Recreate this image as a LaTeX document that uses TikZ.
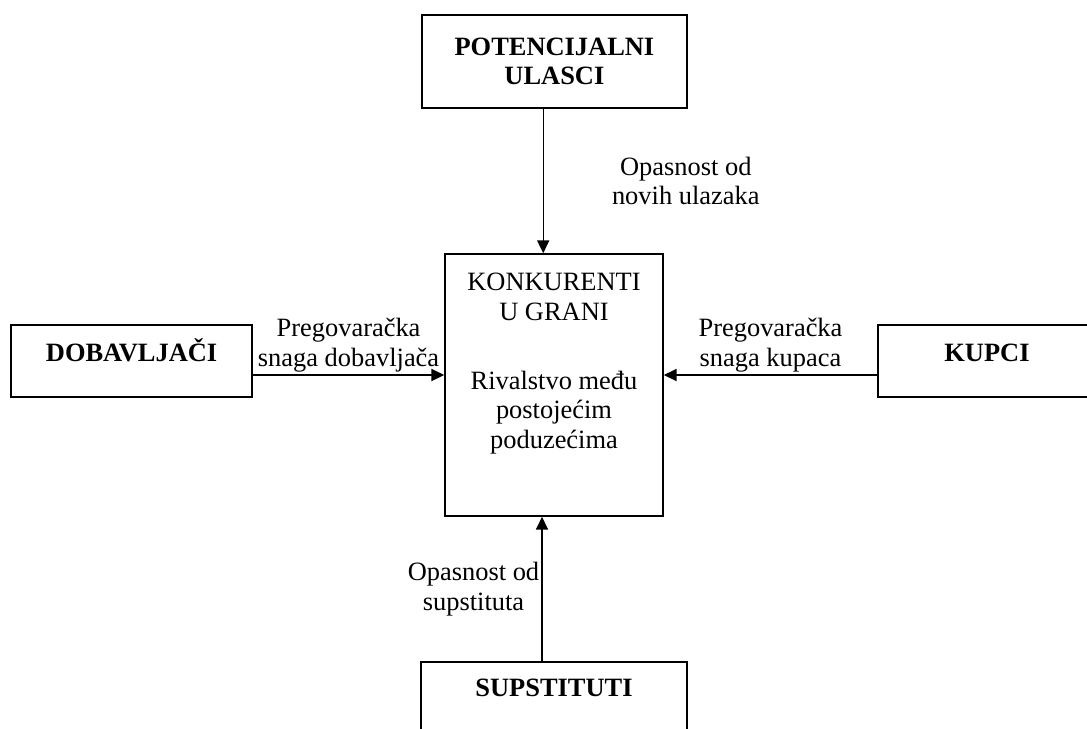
\documentclass[tikz,border=0pt]{standalone}
\usepackage{fontspec}
\setmainfont{Liberation Serif}
\usepackage{tikz}
\usetikzlibrary{
arrows.meta,
positioning
}

\begin{document}
\begin{tikzpicture}[
  force/.style={draw, line width=1.1pt, align=center,
                font=\fontsize{18.8}{21}\selectfont\bfseries},
  note/.style={font=\fontsize{18.8}{21}\selectfont, align=center, inner sep=1.5pt},
  arrow/.style={-{Triangle[length=0.32cm, width=0.3cm]}, line width=1pt}
]
\useasboundingbox (0,0) rectangle (27.175,-18.2);

%% Box: potential entrants
\node[force, minimum width=6.625cm, minimum height=2.325cm]
      (ulasci) at (13.86,-1.54) {POTENCIJALNI\\ULASCI};

%% Box: rivals in the industry
\node[draw, line width=1.1pt, minimum width=5.45cm, minimum height=6.55cm]
      (rival) at (13.85,-9.625) {};
\node[note, inner sep=0pt, anchor=north] (rivaltxt) at (13.85,-6.825)
  {KONKURENTI\\U GRANI\\[0.99cm]Rivalstvo među\\postojećim\\poduzećima};

%% Side boxes
\node[force, minimum width=6.025cm, minimum height=1.8cm,
      text height=0.45cm, text depth=0.41cm]
      (dobav) at (3.29,-9.025) {DOBAVLJAČI};
\node[force, minimum width=5.45cm, minimum height=1.8cm,
      text height=0.45cm, text depth=0.41cm]
      (kupci) at (24.675,-9.025) {KUPCI};

%% Box: substitutes
\node[force, minimum width=6.65cm, minimum height=2.075cm,
      text height=0.45cm, text depth=0.83cm]
      (supst) at (13.85,-17.59) {SUPSTITUTI};

%% Arrows into the centre
\draw[arrow] ([xshift=-0.28cm]ulasci.south) --
  node[note, right=1.65cm] {Opasnost od\\novih ulazaka}
  ([xshift=-0.28cm]ulasci.south |- rival.north);
\draw[arrow] ([yshift=-0.35cm]dobav.east) --
  node[note, above] {Pregovaračka\\snaga dobavljača}
  ([yshift=-0.35cm]dobav.east -| rival.west);
\draw[arrow] ([yshift=-0.35cm]kupci.west) --
  node[note, above] {Pregovaračka\\snaga kupaca}
  ([yshift=-0.35cm]kupci.west -| rival.east);
\draw[arrow] ([xshift=-0.3cm]supst.north) --
  node[note, left] {Opasnost od\\supstituta}
  ([xshift=-0.3cm]supst.north |- rival.south);

\end{tikzpicture}
\end{document}
